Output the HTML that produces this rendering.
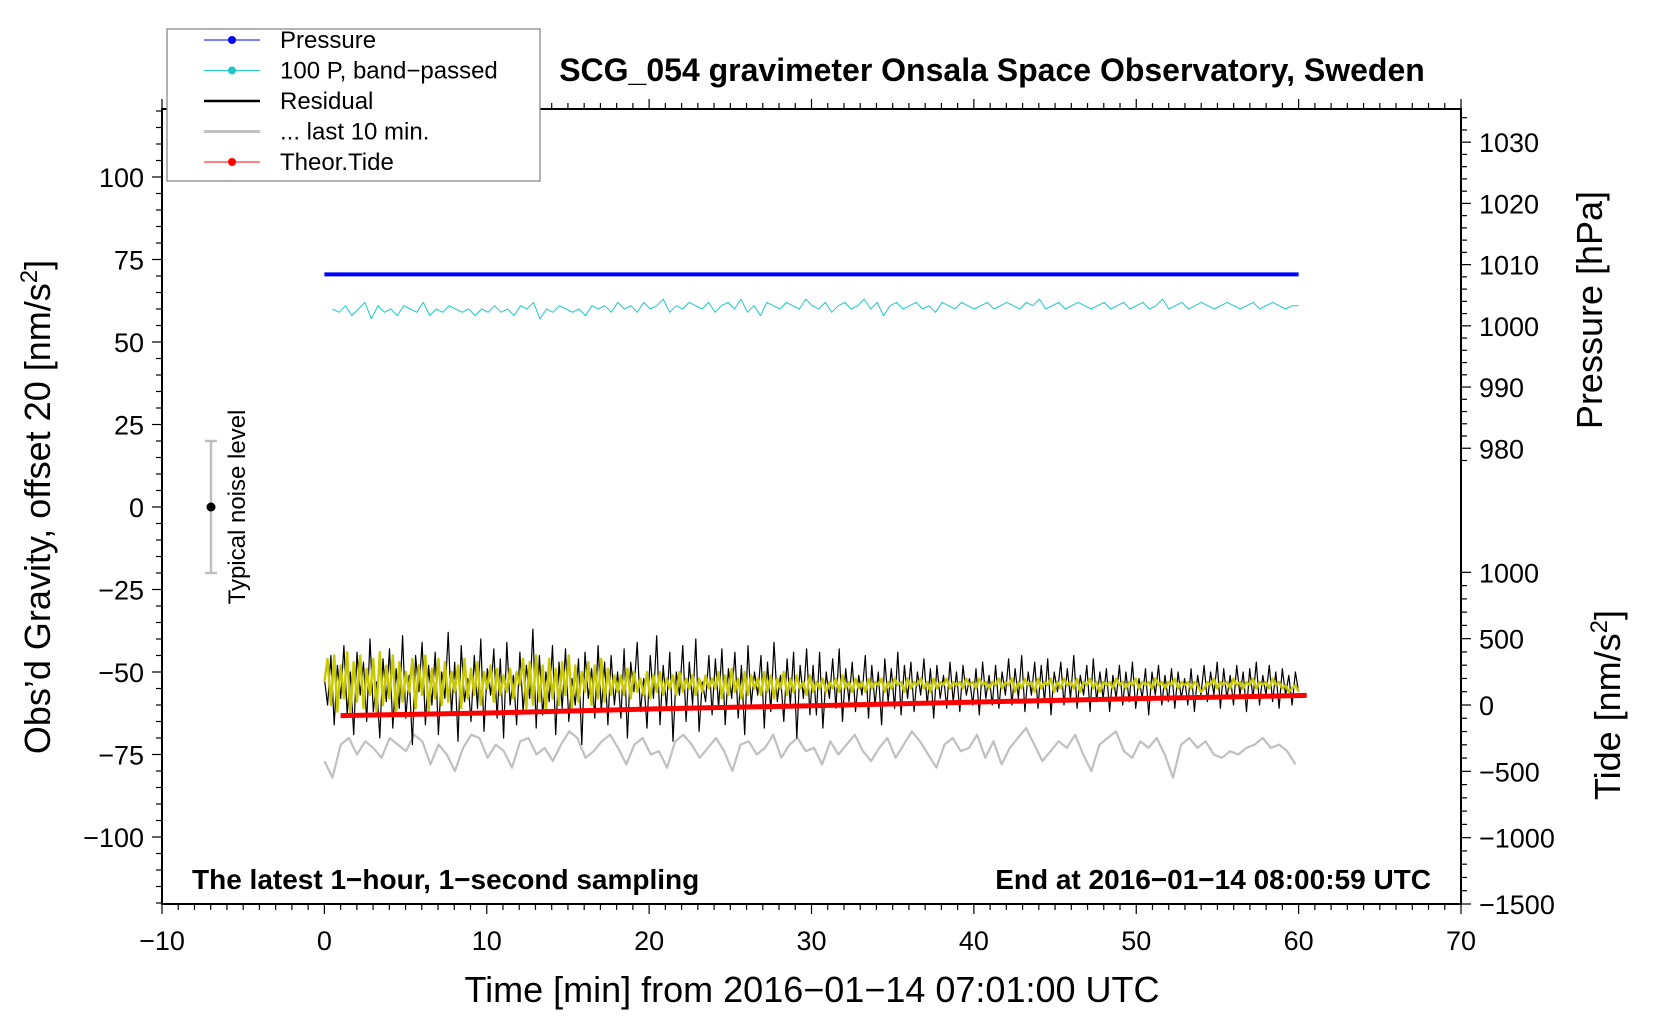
<!DOCTYPE html>
<html><head><meta charset="utf-8"><style>
html,body{margin:0;padding:0;background:#fff;}
svg{display:block;font-family:"Liberation Sans",Arial,sans-serif;}
</style></head><body>
<svg id="chart" width="1660" height="1020" viewBox="0 0 1660 1020" xmlns="http://www.w3.org/2000/svg">
<g id="marks"></g>
<g id="axes"></g>
</svg>
<script>
const residualVals=[-52,-60,-45,-66,-48,-58,-42,-63,-50,-69,-44,-57,-47,-65,-40,-62,-53,-70,-46,-59,-43,-67,-49,-61,-39,-64,-51,-72,-45,-56,
-41,-66,-48,-60,-44,-69,-50,-58,-38,-63,-47,-71,-42,-59,-52,-65,-45,-61,-40,-68,-49,-57,-43,-64,-46,-70,-41,-60,-51,-66,
-44,-62,-48,-58,-37,-67,-45,-63,-50,-59,-42,-69,-47,-61,-43,-65,-52,-60,-46,-72,-44,-58,-49,-64,-42,-62,-47,-66,-45,-60,
-50,-64,-43,-70,-47,-56,-41,-62,-52,-67,-45,-58,-39,-66,-48,-61,-44,-71,-50,-57,-42,-65,-47,-60,-40,-68,-53,-59,-45,-63,
-46,-61,-43,-66,-49,-58,-44,-64,-48,-69,-42,-60,-50,-57,-45,-67,-47,-62,-41,-59,-51,-65,-46,-60,-44,-70,-48,-58,-43,-63,
-48,-63,-44,-67,-50,-58,-46,-61,-43,-65,-49,-59,-47,-62,-51,-57,-45,-64,-48,-60,-50,-66,-46,-59,-49,-61,-44,-63,-48,-58,
-47,-62,-50,-57,-46,-60,-49,-64,-48,-58,-51,-61,-47,-59,-50,-62,-48,-57,-52,-60,-49,-63,-47,-58,-51,-60,-48,-61,-50,-57,
-46,-60,-49,-58,-45,-62,-50,-57,-47,-61,-48,-59,-46,-63,-50,-56,-47,-60,-49,-58,-45,-61,-51,-57,-48,-62,-46,-59,-50,-58,
-49,-62,-51,-58,-48,-60,-50,-59,-47,-61,-52,-58,-49,-63,-50,-57,-48,-60,-51,-59,-49,-61,-50,-58,-52,-60,-49,-62,-51,-57,
-48,-59,-50,-57,-47,-61,-49,-58,-51,-60,-48,-57,-50,-62,-49,-58,-47,-60,-51,-57,-48,-59,-50,-61,-49,-57,-51,-60,-50,-56];
const filteredVals=[-53,-46,-60,-45,-62,-48,-58,-44,-63,-47,-59,-45,-61,-49,-57,-46,-62,-44,-60,-48,-58,-45,-63,-47,-59,-50,-56,-46,-61,-48,
-57,-45,-62,-49,-58,-46,-60,-47,-59,-50,-56,-48,-61,-46,-58,-49,-57,-47,-60,-50,-55,-48,-59,-49,-57,-51,-56,-49,-58,-50,
-54,-46,-61,-47,-60,-45,-59,-48,-62,-46,-58,-49,-60,-47,-57,-45,-61,-48,-59,-50,-56,-47,-60,-48,-58,-46,-59,-49,-57,-51,
-56,-51,-57,-49,-58,-50,-56,-52,-57,-50,-58,-51,-56,-50,-57,-52,-55,-51,-57,-50,-56,-52,-55,-51,-57,-52,-56,-51,-55,-52,
-55,-50,-58,-51,-57,-49,-56,-52,-58,-50,-57,-51,-55,-52,-57,-50,-56,-51,-58,-52,-55,-50,-57,-52,-56,-51,-55,-53,-57,-51,
-56,-53,-55,-52,-56,-53,-55,-52,-56,-51,-55,-53,-56,-52,-55,-53,-56,-52,-55,-53,-54,-52,-56,-53,-55,-52,-54,-53,-56,-52,
-55,-53,-54,-52,-55,-53,-56,-52,-55,-53,-54,-52,-55,-53,-54,-53,-55,-52,-54,-53,-55,-52,-54,-53,-55,-53,-54,-52,-55,-53,
-54,-52,-56,-53,-55,-52,-54,-53,-56,-52,-55,-53,-54,-52,-56,-53,-55,-52,-54,-53,-55,-52,-56,-53,-54,-52,-55,-53,-56,-53,
-54,-53,-55,-52,-54,-53,-55,-53,-54,-52,-55,-53,-54,-53,-55,-52,-54,-53,-55,-53,-54,-52,-55,-53,-54,-53,-55,-53,-54,-56,
-55,-53,-54,-52,-55,-53,-54,-53,-55,-52,-54,-53,-55,-53,-54,-52,-55,-53,-54,-53,-55,-52,-54,-53,-55,-54,-56,-55,-54,-56];
const last10Vals=[-77,-82,-72,-70,-75,-71,-73,-76,-70,-72,-74,-69,-71,-78,-72,-75,-80,-73,-69,-70,-76,-72,-74,-79,-71,-70,-75,-73,-77,-72,
-68,-70,-76,-74,-71,-69,-73,-78,-72,-70,-75,-74,-79,-71,-69,-72,-76,-73,-70,-74,-80,-72,-71,-75,-73,-69,-76,-72,-70,-74,
-73,-78,-71,-75,-72,-69,-74,-77,-73,-70,-76,-72,-68,-71,-75,-79,-72,-70,-74,-73,-69,-76,-71,-78,-73,-70,-67,-72,-77,-74,
-71,-73,-69,-75,-80,-72,-70,-68,-74,-76,-71,-73,-70,-75,-82,-72,-70,-73,-71,-75,-76,-74,-75,-73,-72,-70,-73,-72,-74,-78];
const bandVals=[60,59,61,58,60,62,57,61,59,60,58,61,60,59,62,58,60,59,61,60,59,60,58,60,59,61,59,60,58,61,
60,62,57,60,59,61,60,59,60,58,61,60,61,59,62,60,61,59,62,60,61,63,59,61,60,62,61,60,62,59,
61,62,60,63,59,61,58,62,61,60,62,61,60,63,61,60,62,59,61,62,60,61,63,60,62,58,61,62,60,61,
62,60,61,59,62,61,60,62,61,60,61,62,60,61,62,61,60,62,61,63,60,61,62,60,61,62,61,60,61,62,
60,61,62,60,61,62,60,61,63,60,61,62,60,61,62,61,60,61,62,61,60,61,62,60,61,62,61,60,61,61];
const pressureTimes=[0,15,30,45,60];
const pressureVals=[1008.4,1008.4,1008.4,1008.4,1008.4];
const tideTimes=[1,10,20,30,40,50,60.5];
const tideVals=[-80,-60,-30,-5,22,48,72];
const xTicks=[-10,0,10,20,30,40,50,60,70];
const yTicks=[-100,-75,-50,-25,0,25,50,75,100];
const pTicks=[980,990,1000,1010,1020,1030];
const tTicks=[-1500,-1000,-500,0,500,1000];

const L=162,R=1461,T=109,B=904;
const NS='http://www.w3.org/2000/svg';
const xs=t=>L+(t+10)/80*(R-L);
const ys=g=>507-g*3.30;
const yp=p=>ys(54.9+(p-1000)*1.855);
const yt=v=>ys(-60+v*0.0402);
function el(tag,attrs,parent,text){const e=document.createElementNS(NS,tag);for(const k in attrs)e.setAttribute(k,attrs[k]);if(text!==undefined)e.textContent=text;parent.appendChild(e);return e;}
const marks=document.getElementById('marks'),axes=document.getElementById('axes');
function series(vals,t0,t1){return vals.map((v,i)=>[t0+(t1-t0)*i/(vals.length-1),v]);}
function poly(pts,fy,stroke,w,name){const p=el('polyline',{points:pts.map(([t,v])=>xs(t).toFixed(1)+','+fy(v).toFixed(1)).join(' '),fill:'none',stroke:stroke,'stroke-width':w,'stroke-linejoin':'round'},marks);

return p;}
poly(series(last10Vals,0,59.8),ys,'#c0c0c0',2.2,'last-10-min-line');
poly(series(residualVals,0,60),ys,'#000',1.2,'residual-line');
poly(series(filteredVals,0,60),ys,'#c8c800',2.4,'filtered-residual-line');
poly(tideTimes.map((t,i)=>[t,tideVals[i]]),yt,'#f00',5,'theor-tide-line');
poly(pressureTimes.map((t,i)=>[t,pressureVals[i]]),yp,'#00f',4,'pressure-line');
poly(series(bandVals,0.5,60),ys,'#20c8c8',1,'band-passed-pressure-line');

const fr=el('rect',{x:L,y:T,width:R-L,height:B-T,fill:'none',stroke:'#000','stroke-width':2},axes);


function line(x1,y1,x2,y2,w){el('line',{x1,y1,x2,y2,stroke:'#000','stroke-width':w||1.2},axes);}
function txt(x,y,s,opts,name){const t=el('text',Object.assign({x,y,'font-size':27,fill:'#000'},opts),axes,s);

return t;}
for(let t=-10;t<=70;t++){const maj=t%10===0;const x=xs(t);line(x,B,x,B+(maj?10:6));line(x,T,x,T-(maj?10:6));}
xTicks.forEach(t=>txt(xs(t),B+46,String(t).replace('-','\u2212'),{'text-anchor':'middle'},'x-tick-label'));
for(let g=-120;g<=120;g+=5){const y=ys(g);if(y<T-1||y>B+1)continue;line(L,y,L-(g%25===0?10:6),y);}
yTicks.forEach(g=>txt(L-18,ys(g)+10,String(g).replace('-','\u2212'),{'text-anchor':'end'},'y-tick-label'));
for(let p=976;p<=1036;p+=2){const y=yp(p);if(y<T||y>470)continue;line(R,y,R+(p%10===0?10:6),y);}
pTicks.forEach(p=>txt(R+18,yp(p)+10,String(p),{},'pressure-tick-label'));
for(let v=-1500;v<=1000;v+=100){const y=yt(v);line(R,y,R+(v%500===0?10:6),y);}
tTicks.forEach(v=>txt(R+18,yt(v)+10,String(v).replace('-','\u2212'),{},'tide-tick-label'));
txt(992,81,'SCG_054 gravimeter Onsala Space Observatory, Sweden',{'text-anchor':'middle','font-weight':'bold','font-size':32},'chart-title');
txt(812,1002,'Time [min] from 2016\u221201\u221214 07:01:00 UTC',{'text-anchor':'middle','font-size':36},'x-axis-title');
const yl=txt(0,0,'',{'text-anchor':'middle','font-size':36,transform:'translate(50,507) rotate(-90)'},'y-axis-title');
yl.innerHTML='Obs\u2019d Gravity, offset 20 [nm/s<tspan baseline-shift="super" font-size="24">2</tspan>]';
txt(0,0,'Pressure [hPa]',{'text-anchor':'middle','font-size':36,transform:'translate(1602,310) rotate(-90)'},'pressure-axis-title');
const tl=txt(0,0,'',{'text-anchor':'middle','font-size':36,transform:'translate(1620,705) rotate(-90)'},'tide-axis-title');
tl.innerHTML='Tide [nm/s<tspan baseline-shift="super" font-size="24">2</tspan>]';
txt(192,889,'The latest 1\u2212hour, 1\u2212second sampling',{'font-weight':'bold','font-size':28},'sampling-note');
txt(1431,889,'End at 2016\u221201\u221214 08:00:59 UTC',{'text-anchor':'end','font-weight':'bold','font-size':28},'end-time-note');
line(211,ys(20),211,ys(-20),2.5);axes.lastChild.setAttribute('stroke','#c0c0c0');
line(205,ys(20),217,ys(20),2.5);axes.lastChild.setAttribute('stroke','#c0c0c0');
line(205,ys(-20),217,ys(-20),2.5);axes.lastChild.setAttribute('stroke','#c0c0c0');
el('circle',{cx:211,cy:ys(0),r:4.5,fill:'#000'},axes);
txt(0,0,'Typical noise level',{'text-anchor':'middle','font-size':24,transform:'translate(245,507) rotate(-90)'},'noise-level-label');
const lg=el('g',{},axes);


el('rect',{x:167,y:29,width:373,height:152,fill:'#fff',stroke:'#808080','stroke-width':1.2},lg);
const leg=[['Pressure','#00f',1,true],['100 P, band\u2212passed','#20c8c8',1,true],['Residual','#000',2.5,false],['... last 10 min.','#c0c0c0',3,false],['Theor.Tide','#f00',1,true]];
leg.forEach((d,i)=>{const y=40+i*30.5;el('line',{x1:204,y1:y,x2:260,y2:y,stroke:d[1],'stroke-width':d[2]},lg);
if(d[3])el('circle',{cx:232,cy:y,r:4,fill:d[1]},lg);
const t=el('text',{x:280,y:y+8,'font-size':24},lg,d[0]);

});
</script>
</body></html>
